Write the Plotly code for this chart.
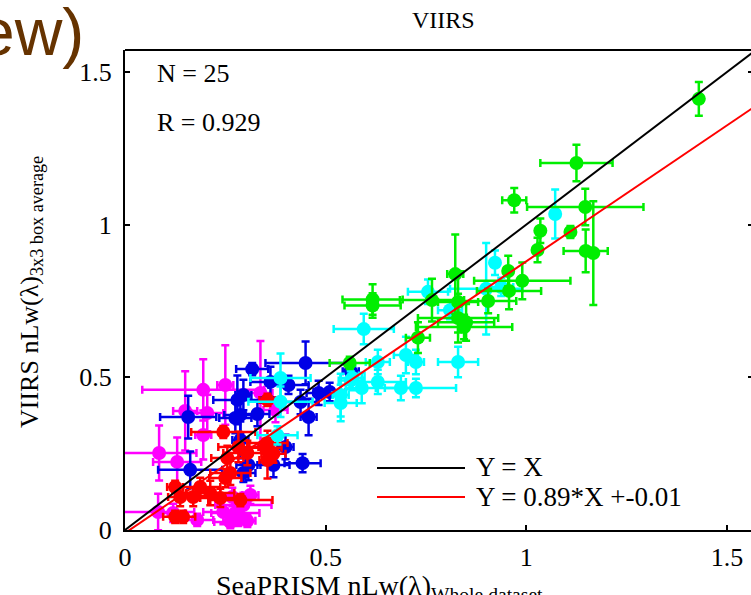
import plotly.graph_objects as go

# ---------------- data ----------------
mag_x  = [0.25, 0.195, 0.15, 0.205, 0.085, 0.13, 0.195, 0.3375, 0.375, 0.0825, 0.245, 0.275, 0.295, 0.18, 0.2625, 0.2825, 0.2675, 0.3125, 0.12, 0.305]
mag_y  = [0.475, 0.459, 0.39, 0.383, 0.252, 0.223, 0.311, 0.449, 0.393, 0.059, 0.059, 0.056, 0.082, 0.033, 0.026, 0.033, 0.108, 0.115, 0.056, 0.03]
mag_xe = [0.02, 0.152, 0.03, 0.04, 0.093, 0.06, 0.02, 0.03, 0.03, 0.09, 0.05, 0.06, 0.07, 0.04, 0.04, 0.03, 0.03, 0.02, 0.03, 0.02]
mag_ye = [0.13, 0.10, 0.13, 0.06, 0.09, 0.08, 0.08, 0.17, 0.04, 0.06, 0.04, 0.03, 0.04, 0.02, 0.02, 0.02, 0.03, 0.03, 0.03, 0.02]

blu_x  = [0.317, 0.45, 0.3625, 0.4075, 0.295, 0.4825, 0.51, 0.4375, 0.4575, 0.2875, 0.275, 0.1575, 0.2875, 0.40, 0.37, 0.4425, 0.1625, 0.3075, 0.295, 0.28, 0.5625, 0.33]
blu_y  = [0.527, 0.547, 0.485, 0.475, 0.442, 0.449, 0.452, 0.419, 0.37, 0.377, 0.367, 0.37, 0.295, 0.272, 0.213, 0.219, 0.197, 0.213, 0.187, 0.426, 0.52, 0.38]
blu_xe = [0.04, 0.10, 0.05, 0.05, 0.02, 0.03, 0.04, 0.04, 0.02, 0.04, 0.04, 0.07, 0.02, 0.02, 0.04, 0.045, 0.08, 0.03, 0.03, 0.06, 0.02, 0.03]
blu_ye = [0.02, 0.07, 0.05, 0.03, 0.05, 0.04, 0.03, 0.04, 0.06, 0.06, 0.05, 0.07, 0.06, 0.04, 0.04, 0.03, 0.06, 0.05, 0.03, 0.08, 0.02, 0.04]

red_x  = [0.245, 0.355, 0.35, 0.2825, 0.305, 0.255, 0.355, 0.125, 0.1875, 0.2125, 0.1375, 0.17, 0.2375, 0.2875, 0.125, 0.145, 0.25, 0.2625, 0.355, 0.37]
red_y  = [0.321, 0.426, 0.269, 0.272, 0.252, 0.236, 0.229, 0.141, 0.141, 0.121, 0.108, 0.108, 0.105, 0.098, 0.043, 0.043, 0.17, 0.187, 0.285, 0.25]
red_xe = [0.08, 0.02, 0.04, 0.05, 0.06, 0.04, 0.02, 0.02, 0.05, 0.06, 0.03, 0.04, 0.05, 0.08, 0.03, 0.03, 0.04, 0.05, 0.05, 0.03]
red_ye = [0.02, 0.02, 0.03, 0.05, 0.04, 0.04, 0.06, 0.02, 0.03, 0.04, 0.03, 0.03, 0.03, 0.02, 0.02, 0.02, 0.03, 0.04, 0.04, 0.03]

cya_x  = [1.072, 0.922, 0.90, 0.755, 0.595, 0.83, 0.70, 0.725, 0.63, 0.6875, 0.725, 0.63, 0.59, 0.567, 0.5375, 0.5375, 0.3875, 0.3875, 0.38, 0.81, 0.9375, 0.5625]
cya_y  = [1.035, 0.875, 0.79, 0.78, 0.658, 0.55, 0.573, 0.55, 0.55, 0.465, 0.465, 0.485, 0.465, 0.498, 0.442, 0.416, 0.498, 0.42, 0.31, 0.72, 0.796, 0.49]
cya_xe = [0.01, 0.01, 0.09, 0.05, 0.075, 0.05, 0.03, 0.02, 0.03, 0.04, 0.10, 0.07, 0.04, 0.03, 0.02, 0.04, 0.075, 0.08, 0.05, 0.03, 0.03, 0.03]
cya_ye = [0.08, 0.04, 0.15, 0.04, 0.05, 0.05, 0.06, 0.04, 0.04, 0.04, 0.03, 0.04, 0.05, 0.04, 0.07, 0.06, 0.08, 0.05, 0.03, 0.03, 0.03, 0.03]

grn_x  = [1.43, 1.125, 0.97, 1.147, 1.035, 1.11, 1.028, 1.148, 1.167, 0.955, 0.99, 0.957, 0.617, 0.617, 0.765, 0.83, 0.905, 0.823, 0.83, 0.845, 0.73, 0.56, 0.85]
grn_y  = [1.412, 1.202, 1.08, 1.058, 0.98, 0.976, 0.917, 0.914, 0.907, 0.848, 0.816, 0.783, 0.755, 0.735, 0.753, 0.747, 0.75, 0.838, 0.694, 0.665, 0.63, 0.547, 0.68]
grn_xe = [0.01, 0.09, 0.03, 0.145, 0.01, 0.01, 0.01, 0.055, 0.01, 0.01, 0.12, 0.08, 0.075, 0.07, 0.08, 0.05, 0.07, 0.02, 0.10, 0.12, 0.03, 0.05, 0.07]
grn_ye = [0.055, 0.06, 0.04, 0.06, 0.04, 0.02, 0.04, 0.07, 0.17, 0.05, 0.06, 0.06, 0.05, 0.04, 0.07, 0.10, 0.04, 0.13, 0.08, 0.04, 0.05, 0.02, 0.06]

fit_slope = 0.89
fit_icpt = -0.01
line_x = [0.0, 1.6]

x_ticks = [0, 0.5, 1, 1.5]
x_tick_text = ["0", "0.5", "1", "1.5"]
y_ticks = [0, 0.5, 1, 1.5]
y_tick_text = ["0", "0.5", "1", "1.5"]

title_text = "VIIRS"
n_text = "N = 25"
r_text = "R = 0.929"
leg1_text = "Y = X"
leg2_text = "Y = 0.89*X +-0.01"

# ---------------- figure ----------------
SERIF = "Liberation Serif, Times New Roman, serif"
fig = go.Figure()

series = [
    (mag_x, mag_y, mag_xe, mag_ye, "#ff00ff"),
    (blu_x, blu_y, blu_xe, blu_ye, "#0000e6"),
    (red_x, red_y, red_xe, red_ye, "#ff0000"),
    (cya_x, cya_y, cya_xe, cya_ye, "#00ffff"),
    (grn_x, grn_y, grn_xe, grn_ye, "#00ee00"),
]
for xs, ys, xe, ye, col in series:
    fig.add_trace(go.Scatter(
        x=xs, y=ys, mode="markers",
        marker=dict(symbol="circle", size=14, color=col, line=dict(width=0)),
        error_x=dict(type="data", array=xe, color=col, thickness=2.5, width=4),
        error_y=dict(type="data", array=ye, color=col, thickness=2.5, width=4),
        showlegend=False, hoverinfo="skip",
    ))

fig.add_trace(go.Scatter(x=line_x, y=line_x, mode="lines",
                         line=dict(color="black", width=2), showlegend=False))
fig.add_trace(go.Scatter(x=line_x, y=[fit_slope * v + fit_icpt for v in line_x], mode="lines",
                         line=dict(color="#ff0000", width=2), showlegend=False))
# invisible trace for right-side ticks
fig.add_trace(go.Scatter(x=[0], y=[0], yaxis="y2", mode="markers",
                         marker=dict(opacity=0), showlegend=False, hoverinfo="skip"))

W, H = 751, 595
L, R, T, B = 125, 0, 50, 65

def px(xp):
    return (xp - L) / (W - L - R)

def py(yp):
    return (H - B - yp) / (H - T - B)

annotations = [
    dict(text="ew)", x=px(86), y=py(32), xref="paper", yref="paper", xanchor="right", yanchor="middle",
         showarrow=False, font=dict(family="Liberation Sans, Arial, sans-serif", size=66, color="#663300")),
    dict(text=title_text, x=px(443), y=py(20), xref="paper", yref="paper", xanchor="center", yanchor="middle",
         showarrow=False, font=dict(family=SERIF, size=24, color="black")),
    dict(text=n_text, x=px(155), y=py(73), xref="paper", yref="paper", xanchor="left", yanchor="middle",
         showarrow=False, font=dict(family=SERIF, size=26, color="black")),
    dict(text=r_text, x=px(155), y=py(122), xref="paper", yref="paper", xanchor="left", yanchor="middle",
         showarrow=False, font=dict(family=SERIF, size=26, color="black")),
    dict(text=leg1_text, x=px(474), y=py(467), xref="paper", yref="paper", xanchor="left", yanchor="middle",
         showarrow=False, font=dict(family=SERIF, size=27, color="black")),
    dict(text=leg2_text, x=px(474), y=py(497), xref="paper", yref="paper", xanchor="left", yanchor="middle",
         showarrow=False, font=dict(family=SERIF, size=27, color="black")),
    dict(text="VIIRS nLw(λ)<sub>3x3 box average</sub>", x=px(31), y=py(292), xref="paper", yref="paper",
         xanchor="center", yanchor="middle", textangle=-90,
         showarrow=False, font=dict(family=SERIF, size=26, color="black")),
    dict(text="SeaPRISM nLw(λ)<sub>Whole dataset</sub>", x=px(214), y=py(568), xref="paper", yref="paper",
         xanchor="left", yanchor="top",
         showarrow=False, font=dict(family=SERIF, size=28, color="black")),
]

shapes = [
    dict(type="line", xref="paper", yref="paper", x0=0, x1=1, y0=1, y1=1, line=dict(color="black", width=2)),
    dict(type="line", xref="paper", yref="paper", x0=px(377), x1=px(465), y0=py(468), y1=py(468),
         line=dict(color="black", width=2)),
    dict(type="line", xref="paper", yref="paper", x0=px(377), x1=px(465), y0=py(497), y1=py(497),
         line=dict(color="#ff0000", width=2)),
]

axis_font = dict(family=SERIF, size=26, color="black")
fig.update_layout(
    width=W, height=H,
    margin=dict(l=L, r=R, t=T, b=B, pad=0),
    paper_bgcolor="white", plot_bgcolor="white",
    showlegend=False,
    xaxis=dict(range=[0, 1.56], tickvals=x_ticks, ticktext=x_tick_text, ticks="inside", ticklen=5,
               tickwidth=1.5, tickcolor="black", showline=True, linewidth=2, linecolor="black",
               showgrid=False, zeroline=False, tickfont=axis_font, ticklabelstandoff=3),
    yaxis=dict(range=[0, 1.572], tickvals=y_ticks, ticktext=y_tick_text, ticks="inside", ticklen=5,
               tickwidth=1.5, tickcolor="black", showline=True, linewidth=2, linecolor="black",
               showgrid=False, zeroline=False, tickfont=axis_font, ticklabelstandoff=6),
    yaxis2=dict(range=[0, 1.572], overlaying="y", side="right", anchor="x", tickvals=y_ticks,
                ticks="inside", ticklen=3, tickwidth=1.5, tickcolor="black", showline=False,
                showgrid=False, zeroline=False, showticklabels=False),
    annotations=annotations,
    shapes=shapes,
)

fig.write_html("out.html")
